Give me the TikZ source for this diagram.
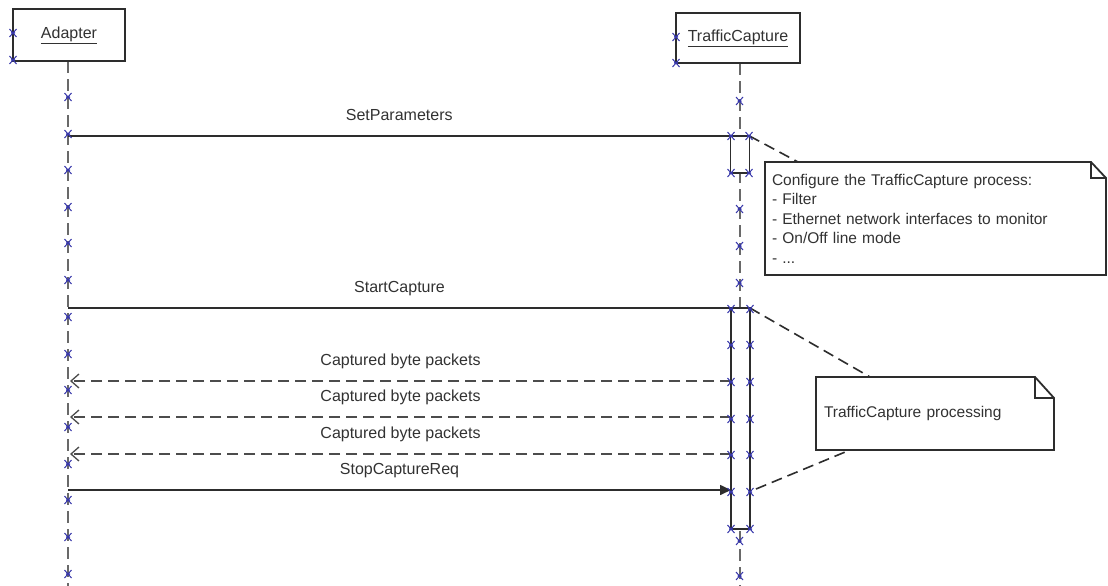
\documentclass[tikz,border=0pt]{standalone}
\usepackage{fontspec}
\setmainfont{Liberation Sans}
\usetikzlibrary{arrows.meta}
\definecolor{lc}{RGB}{45,45,45}
\definecolor{llc}{RGB}{105,105,105}
\definecolor{xc}{RGB}{55,55,170}
\definecolor{txc}{RGB}{50,50,50}
\tikzset{
  txt/.style={font=\fontsize{16}{19.5}\selectfont, text=txc},
  ntxt/.style={font=\fontsize{15.5}{19.5}\selectfont, text=txc},
  objbox/.style={txt, draw=lc, line width=1.8pt, fill=white, inner sep=0pt},
  lifeline/.style={draw=llc, line width=2pt, dash pattern=on 12pt off 6pt},
  actbox/.style={draw=lc, line width=1.6pt, fill=white, inner sep=0pt, outer sep=0pt, minimum width=19pt},
  msg/.style={draw=lc, line width=1.6pt},
  retmsg/.style={draw=lc!85, line width=1.7pt, dash pattern=on 11pt off 6pt, -{Straight Barb[length=8pt,width=14pt,line width=1.3pt]}},
  syncmsg/.style={msg, -{Triangle[length=11pt,width=10pt]}},
  lbl/.style={txt, anchor=base, midway, yshift=16pt, inner sep=0pt},
  notebox/.style={ntxt, align=left, inner ysep=0pt, outer sep=0pt},
  noteline/.style={draw=lc, line width=1.8pt, fill=white},
  notelink/.style={draw=lc, line width=1.6pt, dash pattern=on 11pt off 6pt},
  xmk/.pic={\draw[xc, line width=1pt] (-3.5,-4)--(3.5,4) (-3.5,4)--(3.5,-4) (-2,0)--(2,0);}
}
\begin{document}
\begin{tikzpicture}[x=1pt,y=-1pt]
\fill[white] (0,0) rectangle (1108,586);
\useasboundingbox (0,0) rectangle (1108,586);

% lifelines
\coordinate (aTop) at (68,61);
\coordinate (aBot) at (68,586);
\coordinate (tTop) at (739.5,63);
\coordinate (tBot) at (739.5,586);
\draw[lifeline] (aTop) -- (aBot);
\draw[lifeline] (tTop) -- (tBot);

% objects
\node[objbox, minimum width=112pt, minimum height=52pt] (adapter) at (69,35) {\underline{Adapter}};
\node[objbox, minimum width=124pt, minimum height=50pt] (tc) at (738,38) {\underline{TrafficCapture}};

% activations
\node[actbox, minimum height=37pt] (act1) at (740,154.5) {};
\node[actbox, minimum height=221pt] (act2) at (740.5,418.5) {};

% notes
\node[notebox, text width=327pt, minimum height=113pt, inner xsep=7pt] (note1) at (935.5,218.5) {};
\draw[notelink] (act1.north east) -- (798,162);
\draw[noteline] (note1.north west) -- ([xshift=-15pt]note1.north east) -- ([yshift=-16pt]note1.north east) -- (note1.south east) -- (note1.south west) -- cycle;
\draw[draw=lc, line width=1.5pt] ([xshift=-15pt]note1.north east) -- ([xshift=-15pt,yshift=-16pt]note1.north east) -- ([yshift=-16pt]note1.north east);
\node[notebox, text width=327pt, minimum height=113pt, inner xsep=7pt] (note1t) at (935.5,218.5) {Configure the TrafficCapture process:\\- Filter\\- Ethernet network interfaces to monitor\\- On/Off line mode\\- ...};

\node[notebox, text width=222pt, minimum height=73pt, inner xsep=8pt] (note2) at (935,413.5) {};
\coordinate (n2b) at (756,489);
\draw[notelink] (act2.north east) -- (870,377);
\draw[notelink] (n2b) -- (850,450);
\draw[noteline] (note2.north west) -- ([xshift=-19pt]note2.north east) -- ([yshift=-21pt]note2.north east) -- (note2.south east) -- (note2.south west) -- cycle;
\draw[draw=lc, line width=1.5pt] ([xshift=-19pt]note2.north east) -- ([xshift=-19pt,yshift=-21pt]note2.north east) -- ([yshift=-21pt]note2.north east);
\node[notebox, text width=222pt, minimum height=73pt, inner xsep=8pt] (note2t) at (935,413.5) {TrafficCapture processing};

% messages
\coordinate (m1a) at (68,136);
\coordinate (m2a) at (68,308);
\coordinate (r1a) at (70,381);
\coordinate (r1b) at (731,381);
\coordinate (r2a) at (70,417);
\coordinate (r2b) at (731,417);
\coordinate (r3a) at (70,454);
\coordinate (r3b) at (731,454);
\coordinate (m3a) at (68,490);
\coordinate (m3b) at (731,490);
\draw[msg] (m1a) -- node[lbl] {SetParameters} (act1.north west);
\draw[msg] (m2a) -- node[lbl] {StartCapture} (act2.north west);
\draw[retmsg] (r1b) -- node[lbl] {Captured byte packets} (r1a);
\draw[retmsg] (r2b) -- node[lbl] {Captured byte packets} (r2a);
\draw[retmsg] (r3b) -- node[lbl] {Captured byte packets} (r3a);
\draw[syncmsg] (m3a) -- node[lbl] {StopCaptureReq} (m3b);

% blue markers
\foreach \p in {(13,33),(13,60),(676,37),(676,63)} \pic at \p {xmk};
\foreach \y in {97,134,170,207,243,280,317,354,390,427,464,500,537,574} \pic at (68,\y) {xmk};
\foreach \y in {101,209,246,283,541,576} \pic at (739.5,\y) {xmk};
\foreach \y in {136,173} {\pic at (731,\y) {xmk}; \pic at (749,\y) {xmk};}
\foreach \y in {309,345,382,419,455,492,529} {\pic at (731,\y) {xmk}; \pic at (750,\y) {xmk};}
\end{tikzpicture}
\end{document}
